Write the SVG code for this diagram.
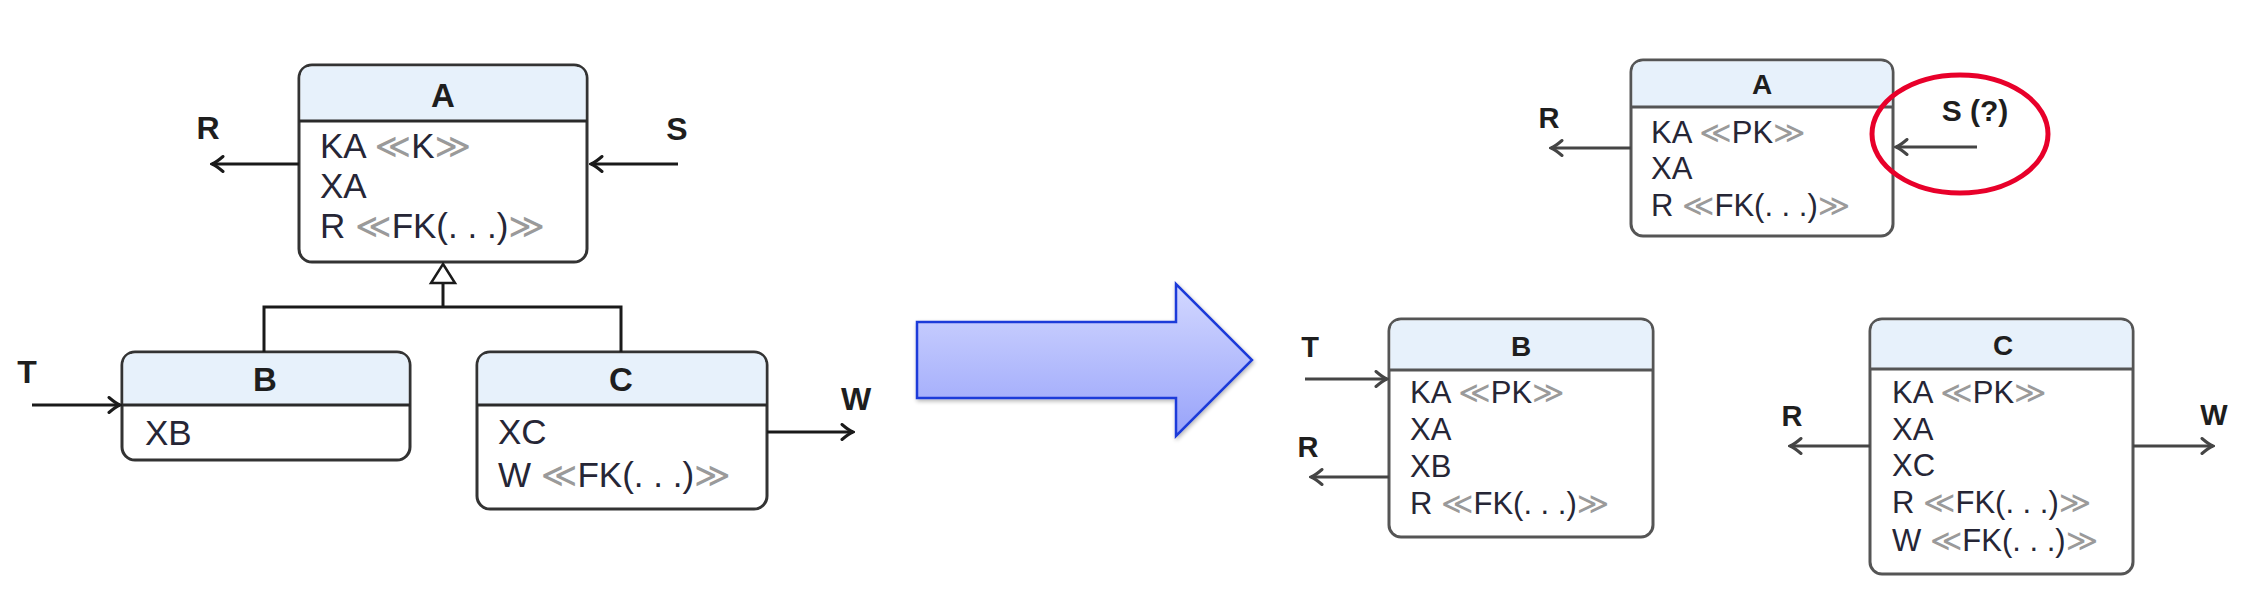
<svg xmlns="http://www.w3.org/2000/svg" width="2254" height="606" viewBox="0 0 2254 606">
<style>
.box{fill:#ffffff;stroke:#333;stroke-width:3}
.boxR{fill:#ffffff;stroke:#555;stroke-width:3}
.hdr{fill:#e7f1fb}
.sep{stroke:#2a2a2a;stroke-width:3}
.sepR{stroke:#555;stroke-width:3}
.title{font-family:"Liberation Sans",Arial,sans-serif;font-weight:bold;fill:#1e1e1e;text-anchor:middle}
.attr{font-family:"Liberation Sans",Arial,sans-serif;fill:#262636}
.lbl{font-family:"Liberation Sans",Arial,sans-serif;font-weight:bold;fill:#1e1e1e;text-anchor:middle}
.g{fill:#9a9a9a;font-family:"DejaVu Sans",sans-serif}
.L{font-size:35px}
.Rt{font-size:31px}
.con{fill:none;stroke:#1a1a1a;stroke-width:3}
.conR{fill:none;stroke:#454545;stroke-width:3}
</style>
<defs>
<marker id="ahD" viewBox="-13 -9 15 18" refX="0" refY="0" markerWidth="15" markerHeight="18" markerUnits="userSpaceOnUse" orient="auto">
<path d="M-11,-7.5 Q-4,-1.5 0,0 Q-4,1.5 -11,7.5" fill="none" stroke="#1a1a1a" stroke-width="3" stroke-linecap="round"/>
</marker>
<marker id="ahG" viewBox="-13 -9 15 18" refX="0" refY="0" markerWidth="15" markerHeight="18" markerUnits="userSpaceOnUse" orient="auto">
<path d="M-11,-7.5 Q-4,-1.5 0,0 Q-4,1.5 -11,7.5" fill="none" stroke="#454545" stroke-width="3" stroke-linecap="round"/>
</marker>
<linearGradient id="bigArrowGrad" x1="0" y1="0" x2="0" y2="1">
<stop offset="0" stop-color="#d3d8ff"/>
<stop offset="1" stop-color="#98a3fa"/>
</linearGradient>
<filter id="sh" x="-10%" y="-10%" width="130%" height="130%">
<feGaussianBlur in="SourceAlpha" stdDeviation="2"/>
<feOffset dx="1" dy="2" result="b"/>
<feComponentTransfer><feFuncA type="linear" slope="0.3"/></feComponentTransfer>
<feMerge><feMergeNode/><feMergeNode in="SourceGraphic"/></feMerge>
</filter>
</defs>

<!-- Left: before -->
<g id="nodeA">
<rect class="box" x="299" y="65" width="288" height="197" rx="13"/>
<path class="hdr" d="M312,66.5 H574 Q585.5,66.5 585.5,78 V121 H300.5 V78 Q300.5,66.5 312,66.5 Z"/>
<line class="sep" x1="299" y1="121" x2="587" y2="121"/>
<text class="title" x="443" y="107" font-size="33">A</text>
<text class="attr L" x="320" y="158">KA <tspan class="g">≪</tspan>K<tspan class="g">≫</tspan></text>
<text class="attr L" x="320" y="198">XA</text>
<text class="attr L" x="320" y="238">R <tspan class="g">≪</tspan>FK(. . .)<tspan class="g">≫</tspan></text>
</g>
<g id="nodeB">
<rect class="box" x="122" y="352" width="288" height="108" rx="13"/>
<path class="hdr" d="M135,353.5 H397 Q408.5,353.5 408.5,365 V405 H123.5 V365 Q123.5,353.5 135,353.5 Z"/>
<line class="sep" x1="122" y1="405" x2="410" y2="405"/>
<text class="title" x="265" y="391" font-size="33">B</text>
<text class="attr L" x="145" y="445">XB</text>
</g>
<g id="nodeC">
<rect class="box" x="477" y="352" width="290" height="157" rx="13"/>
<path class="hdr" d="M490,353.5 H754 Q765.5,353.5 765.5,365 V405 H478.5 V365 Q478.5,353.5 490,353.5 Z"/>
<line class="sep" x1="477" y1="405" x2="767" y2="405"/>
<text class="title" x="621" y="391" font-size="33">C</text>
<text class="attr L" x="498" y="444">XC</text>
<text class="attr L" x="498" y="487">W <tspan class="g">≪</tspan>FK(. . .)<tspan class="g">≫</tspan></text>
</g>

<!-- Right: after -->
<g id="nodeA2">
<rect class="boxR" x="1631" y="60" width="262" height="176" rx="12"/>
<path class="hdr" d="M1643,61.5 H1881 Q1891.5,61.5 1891.5,72 V107 H1632.5 V72 Q1632.5,61.5 1643,61.5 Z"/>
<line class="sepR" x1="1631" y1="107" x2="1893" y2="107"/>
<text class="title" x="1762" y="94" font-size="28">A</text>
<text class="attr Rt" x="1651" y="143">KA <tspan class="g">≪</tspan>PK<tspan class="g">≫</tspan></text>
<text class="attr Rt" x="1651" y="179">XA</text>
<text class="attr Rt" x="1651" y="216">R <tspan class="g">≪</tspan>FK(. . .)<tspan class="g">≫</tspan></text>
</g>
<g id="nodeB2">
<rect class="boxR" x="1389" y="319" width="264" height="218" rx="12"/>
<path class="hdr" d="M1401,320.5 H1641 Q1651.5,320.5 1651.5,331 V370 H1390.5 V331 Q1390.5,320.5 1401,320.5 Z"/>
<line class="sepR" x1="1389" y1="370" x2="1653" y2="370"/>
<text class="title" x="1521" y="356" font-size="28">B</text>
<text class="attr Rt" x="1410" y="403">KA <tspan class="g">≪</tspan>PK<tspan class="g">≫</tspan></text>
<text class="attr Rt" x="1410" y="440">XA</text>
<text class="attr Rt" x="1410" y="477">XB</text>
<text class="attr Rt" x="1410" y="514">R <tspan class="g">≪</tspan>FK(. . .)<tspan class="g">≫</tspan></text>
</g>
<g id="nodeC2">
<rect class="boxR" x="1870" y="319" width="263" height="255" rx="12"/>
<path class="hdr" d="M1882,320.5 H2121 Q2131.5,320.5 2131.5,331 V369 H1871.5 V331 Q1871.5,320.5 1882,320.5 Z"/>
<line class="sepR" x1="1870" y1="369" x2="2133" y2="369"/>
<text class="title" x="2003" y="355" font-size="28">C</text>
<text class="attr Rt" x="1892" y="403">KA <tspan class="g">≪</tspan>PK<tspan class="g">≫</tspan></text>
<text class="attr Rt" x="1892" y="440">XA</text>
<text class="attr Rt" x="1892" y="476">XC</text>
<text class="attr Rt" x="1892" y="513">R <tspan class="g">≪</tspan>FK(. . .)<tspan class="g">≫</tspan></text>
<text class="attr Rt" x="1892" y="551">W <tspan class="g">≪</tspan>FK(. . .)<tspan class="g">≫</tspan></text>
</g>

<!-- Transformation arrow -->
<g id="transform">
<polygon points="917,322 1176,322 1176,284 1252,360 1176,436 1176,398 917,398" fill="url(#bigArrowGrad)" stroke="#1f3bd9" stroke-width="2.5" stroke-linejoin="miter" filter="url(#sh)"/>
</g>

<!-- Connectors -->
<g id="connectors">
<line class="con" x1="299" y1="164" x2="212" y2="164" marker-end="url(#ahD)"/>
<line class="con" x1="678" y1="164" x2="591" y2="164" marker-end="url(#ahD)"/>
<line class="con" x1="32" y1="405" x2="120" y2="405" marker-end="url(#ahD)"/>
<line class="con" x1="767" y1="432" x2="853" y2="432" marker-end="url(#ahD)"/>
<polyline class="con" points="264,352 264,307 621,307 621,352"/>
<line class="con" x1="443" y1="307" x2="443" y2="283"/>
<polygon points="443,264 455,283 431,283" fill="#ffffff" stroke="#1a1a1a" stroke-width="2.5" stroke-linejoin="miter"/>

<line class="conR" x1="1631" y1="148" x2="1551" y2="148" marker-end="url(#ahG)"/>
<line class="conR" x1="1977" y1="147" x2="1896" y2="147" marker-end="url(#ahG)"/>
<line class="conR" x1="1305" y1="379" x2="1387" y2="379" marker-end="url(#ahG)"/>
<line class="conR" x1="1389" y1="477" x2="1311" y2="477" marker-end="url(#ahG)"/>
<line class="conR" x1="1870" y1="446" x2="1790" y2="446" marker-end="url(#ahG)"/>
<line class="conR" x1="2133" y1="446" x2="2213" y2="446" marker-end="url(#ahG)"/>
</g>

<!-- Connector labels -->
<g id="labels">
<text class="lbl" x="208" y="139" font-size="32">R</text>
<text class="lbl" x="677" y="140" font-size="32">S</text>
<text class="lbl" x="27" y="383" font-size="32">T</text>
<text class="lbl" x="856" y="410" font-size="32">W</text>
<text class="lbl" x="1549" y="128" font-size="29">R</text>
<text class="lbl" x="1975" y="121" font-size="30">S (?)</text>
<text class="lbl" x="1310" y="357" font-size="29">T</text>
<text class="lbl" x="1308" y="457" font-size="29">R</text>
<text class="lbl" x="1792" y="426" font-size="29">R</text>
<text class="lbl" x="2214" y="425" font-size="29">W</text>
</g>

<ellipse cx="1960" cy="134" rx="88" ry="59" fill="none" stroke="#e8002a" stroke-width="5"/>
</svg>
